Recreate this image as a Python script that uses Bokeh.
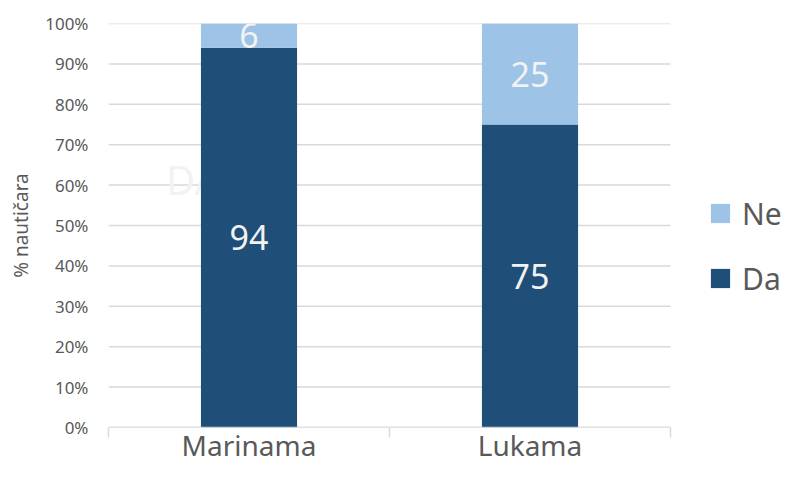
from bokeh.plotting import figure
from bokeh.models import (ColumnDataSource, Range1d, FixedTicker, Legend, LegendItem,
                          LabelSet, Label)
from bokeh.core.properties import value
from bokeh.embed import file_html
from bokeh.resources import INLINE

categories = ["Marinama", "Lukama"]
da = [94, 75]
ne = [6, 25]
yticks = list(range(0, 101, 10))
ytick_labels = {t: f"{t}%" for t in yticks}

FONT = "Noto Sans"
DA_COLOR = "#1F4E79"
NE_COLOR = "#9DC3E6"
TXT = "#595959"
GRID = "#D9D9D9"

n = len(categories)
x = [i + 0.5 for i in range(n)]
src = ColumnDataSource(dict(
    x=x, da=da, ne=ne,
    ne_top=[d + v for d, v in zip(da, ne)],
    da_mid=[d / 2 for d in da],
    ne_mid=[d + v / 2 for d, v in zip(da, ne)],
    da_lbl=[str(v) for v in da],
    ne_lbl=[str(v) for v in ne],
))

# plot frame spans to the right edge so the legend can sit inside it;
# the category area occupies x in [0, n]
p = figure(width=784, height=468, x_range=Range1d(0, n * 676 / 562),
           y_range=Range1d(0, 100), output_backend="svg", toolbar_location=None,
           min_border_left=108, min_border_right=0, min_border_top=23,
           min_border_bottom=41)
p.outline_line_color = None
p.background_fill_color = "white"
p.border_fill_color = "white"

# horizontal gridlines limited to the category area
p.segment(x0=[0] * len(yticks), x1=[n] * len(yticks), y0=yticks, y1=yticks,
          line_color=GRID, line_width=1.5, level="underlay")

# faint background text
p.add_layout(Label(x=0.205, y=61.5, text="DA", text_font=FONT, text_font_size="40px",
                   text_color="#F2F2F2", text_baseline="alphabetic", text_align="left",
                   level="underlay"))

bw = 0.342
r_da = p.vbar(x="x", bottom=0, top="da", width=bw, color=DA_COLOR, line_color=None, source=src)
r_ne = p.vbar(x="x", bottom="da", top="ne_top", width=bw, color=NE_COLOR, line_color=None, source=src)

# x axis baseline
p.segment(x0=[0], x1=[n], y0=[0], y1=[0], line_color=GRID, line_width=1.5)

for col, lbl in (("da_mid", "da_lbl"), ("ne_mid", "ne_lbl")):
    p.add_layout(LabelSet(x="x", y=col, text=lbl, source=src, text_align="center",
                          text_baseline="middle", text_font=value(FONT),
                          text_font_size="34px", text_color="#F2F2F2"))

# y axis
p.yaxis.ticker = FixedTicker(ticks=yticks)
p.yaxis.major_label_overrides = ytick_labels
p.yaxis.axis_line_color = None
p.yaxis.major_tick_line_color = None
p.yaxis.minor_tick_line_color = None
p.yaxis.major_tick_out = 0
p.yaxis.major_label_standoff = 20
p.yaxis.major_label_text_font = FONT
p.yaxis.major_label_text_font_size = "17px"
p.yaxis.major_label_text_color = TXT
p.yaxis.axis_label = "% nautičara"
p.yaxis.axis_label_text_font = FONT
p.yaxis.axis_label_text_font_size = "19px"
p.yaxis.axis_label_text_font_style = "normal"
p.yaxis.axis_label_text_color = TXT
p.yaxis.axis_label_standoff = 8

# x axis
p.xaxis.ticker = FixedTicker(ticks=x, minor_ticks=list(range(n + 1)))
p.xaxis.major_label_overrides = {xx: c for xx, c in zip(x, categories)}
p.xaxis.axis_line_color = None
p.xaxis.major_tick_line_color = None
p.xaxis.major_tick_out = 0
p.xaxis.minor_tick_line_color = GRID
p.xaxis.minor_tick_line_width = 1.5
p.xaxis.minor_tick_in = 0
p.xaxis.minor_tick_out = 10
p.xaxis.major_label_standoff = -12
p.xaxis.major_label_text_font = FONT
p.xaxis.major_label_text_font_size = "28px"
p.xaxis.major_label_text_color = TXT

p.xgrid.grid_line_color = None
p.ygrid.grid_line_color = None

legend = Legend(items=[LegendItem(label="Ne", renderers=[r_ne]),
                       LegendItem(label="Da", renderers=[r_da])],
                location=(600, 128), orientation="vertical",
                glyph_width=24, glyph_height=24, label_height=42, spacing=23,
                label_standoff=10, padding=0, margin=0,
                label_text_font=FONT, label_text_font_size="30px",
                label_text_color=TXT, border_line_color=None,
                background_fill_alpha=0)
p.add_layout(legend, "center")

open("out.html", "w").write(file_html(p, INLINE))
